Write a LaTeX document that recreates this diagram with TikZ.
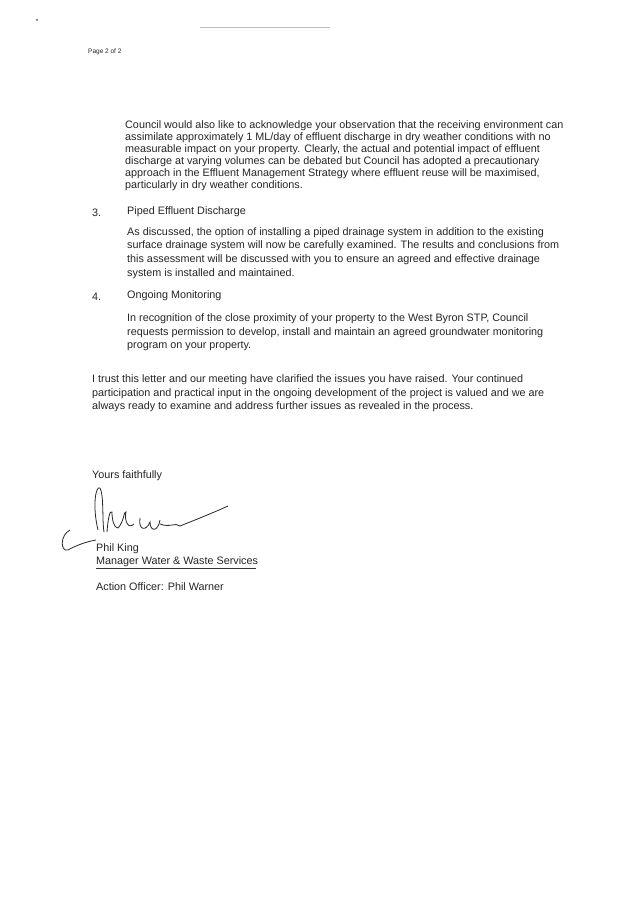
\documentclass[tikz,border=0pt]{standalone}
\usepackage{fontspec}
\setmainfont{Liberation Sans}
\begin{document}
\begin{tikzpicture}[x=1pt,y=-1pt,
  txt/.style={anchor=west,inner sep=0pt,font=\fontsize{10.8}{12}\selectfont,text=black!85},
  sig/.style={line width=0.8pt,black!85}]
\useasboundingbox[fill=white] (0,0) rectangle (637,901);
\fill[black!70] (37,20) circle (1);
\draw[black!25,line width=0.4pt] (200,27) -- (330,27);
\node[txt,font=\fontsize{6.5}{7}\selectfont] (pg) at (88,52) {Page 2 of 2};
\node[txt] (a1) at (125,126) {Council would also like to acknowledge your observation that the receiving environment can};
\node[txt] (a2) at (125,138) {assimilate approximately 1 ML/day of effluent discharge in dry weather conditions with no};
\node[txt] (a3) at (125,150) {measurable impact on your property. Clearly, the actual and potential impact of effluent};
\node[txt] (a4) at (125,162) {discharge at varying volumes can be debated but Council has adopted a precautionary};
\node[txt] (a5) at (125,174) {approach in the Effluent Management Strategy where effluent reuse will be maximised,};
\node[txt] (a6) at (125,186) {particularly in dry weather conditions.};
\node[txt] (n3) at (92,213) {3.};
\node[txt] (h3) at (127,212) {Piped Effluent Discharge};
\node[txt] (b1) at (127,233) {As discussed, the option of installing a piped drainage system in addition to the existing};
\node[txt] (b2) at (127,246) {surface drainage system will now be carefully examined. The results and conclusions from};
\node[txt] (b3) at (127,260) {this assessment will be discussed with you to ensure an agreed and effective drainage};
\node[txt] (b4) at (127,274) {system is installed and maintained.};
\node[txt] (n4) at (92,297) {4.};
\node[txt] (h4) at (127,296) {Ongoing Monitoring};
\node[txt] (c1) at (127,319) {In recognition of the close proximity of your property to the West Byron STP, Council};
\node[txt] (c2) at (127,333) {requests permission to develop, install and maintain an agreed groundwater monitoring};
\node[txt] (c3) at (127,346) {program on your property.};
\node[txt] (d1) at (92,380) {I trust this letter and our meeting have clarified the issues you have raised. Your continued};
\node[txt] (d2) at (92,394) {participation and practical input in the ongoing development of the project is valued and we are};
\node[txt] (d3) at (92,407) {always ready to examine and address further issues as revealed in the process.};
\node[txt] (yf) at (92,476) {Yours faithfully};
% signature
\draw[sig] (98,530) .. controls (92,505) and (96,485) .. (100,488) .. controls (104,495) and (102,520) .. (104,532);
\draw[sig] (107,532) .. controls (108,518) and (110,510) .. (112,512) .. controls (112,520) and (114,528) .. (118,528);
\draw[sig] (118,528) .. controls (124,522) and (124,510) .. (126,512) .. controls (124,520) and (128,530) .. (134,524);
\draw[sig] (140,518) .. controls (138,530) and (146,532) .. (150,522) .. controls (150,532) and (158,532) .. (160,520);
\draw[sig] (160,524) .. controls (170,528) and (175,522) .. (180,526) .. controls (195,520) and (215,512) .. (228,506);
\draw[sig] (70,530) .. controls (60,535) and (60,552) .. (68,550) .. controls (75,546) and (85,542) .. (96,540);
\node[txt] (pk) at (96,549) {Phil King};
\node[txt] (mg) at (96,562) {Manager Water \& Waste Services};
\draw[black!80,line width=0.5pt] (mg.south west) ++(0,1) -- ++(160,0);
\node[txt] (ao) at (96,587) {Action Officer: Phil Warner};
\end{tikzpicture}
\end{document}
